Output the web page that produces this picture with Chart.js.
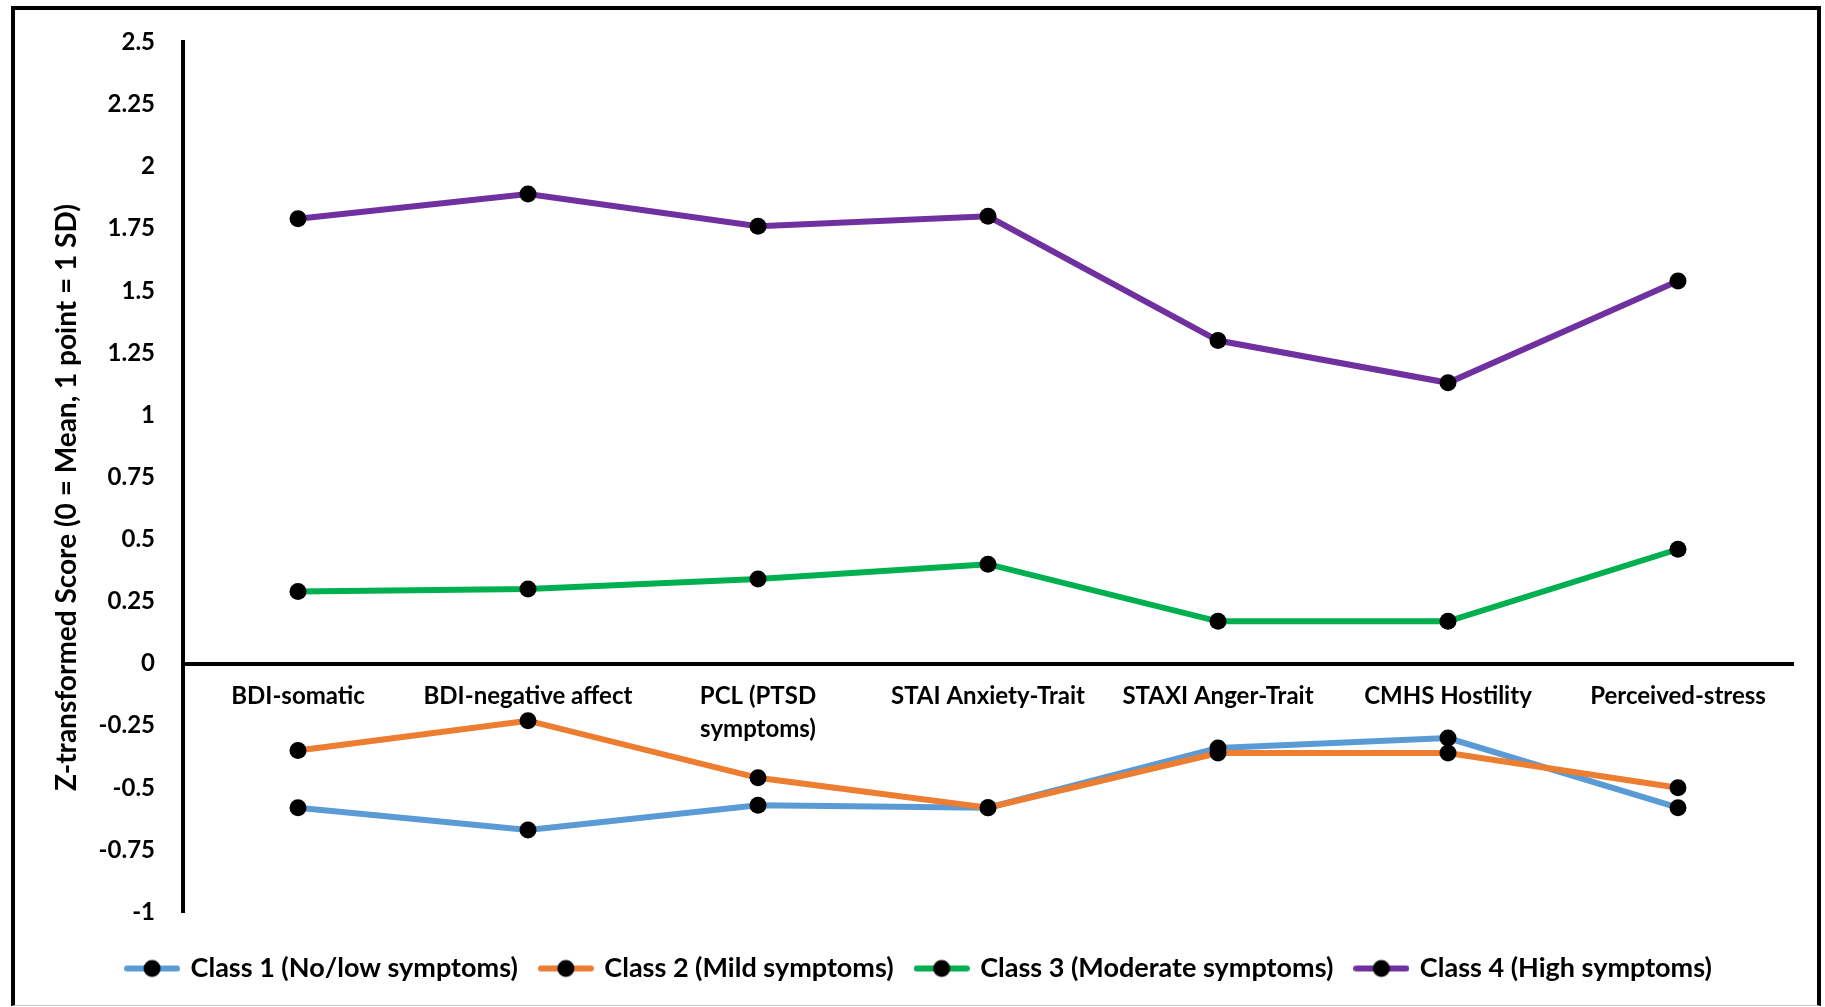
<!DOCTYPE html>
<html>
<head>
<meta charset="utf-8">
<script src="https://cdn.jsdelivr.net/npm/chart.js@4/dist/chart.umd.min.js"></script>
<style>
  html, body { margin: 0; padding: 0; background: #ffffff; }
  body { width: 1825px; height: 1007px; position: relative; overflow: hidden; }
  #frame {
    position: absolute; left: 11px; top: 6px; width: 1802px; height: 995px;
    border-left: 4px solid #000; border-top: 4px solid #000; border-right: 4px solid #000;
    border-bottom: 1px solid #c8c8c8;
  }
  #wrap { position: absolute; left: 0; top: 0; width: 1825px; height: 1007px; }
</style>
</head>
<body>
<div id="frame"></div>
<div id="wrap"><canvas id="chart" width="1825" height="1007"></canvas></div>
<script>
// Measures on the x axis
const categories = [
  'BDI-somatic',
  'BDI-negative affect',
  ['PCL (PTSD', 'symptoms)'],
  'STAI Anxiety-Trait',
  'STAXI Anger-Trait',
  'CMHS Hostility',
  'Perceived-stress'
];

// Mean z-scores per latent class
const class1 = [-0.58, -0.67, -0.57, -0.58, -0.34, -0.30, -0.58];
const class2 = [-0.35, -0.23, -0.46, -0.58, -0.36, -0.36, -0.50];
const class3 = [0.29, 0.30, 0.34, 0.40, 0.17, 0.17, 0.46];
const class4 = [1.79, 1.89, 1.76, 1.80, 1.30, 1.13, 1.54];

const seriesNames = [
  'Class 1 (No/low symptoms)',
  'Class 2 (Mild symptoms)',
  'Class 3 (Moderate symptoms)',
  'Class 4 (High symptoms)'
];
const seriesColors = ['#5B9BD5', '#ED7D31', '#00B050', '#7030A0'];

// Y axis ticks and title
const yTicks = [-1, -0.75, -0.5, -0.25, 0, 0.25, 0.5, 0.75, 1, 1.25, 1.5, 1.75, 2, 2.25, 2.5];
const yTickLabels = ['-1', '-0.75', '-0.5', '-0.25', '0', '0.25', '0.5', '0.75', '1', '1.25', '1.5', '1.75', '2', '2.25', '2.5'];
const yTitle = 'Z-transformed Score (0 = Mean, 1 point = 1 SD)';

const FONT = 'Lato, "Open Sans", sans-serif';

// Legend symbol: coloured line with a black dot in the middle
function legendSymbol(color) {
  const c = document.createElement('canvas');
  c.width = 56; c.height = 20;
  const g = c.getContext('2d');
  g.strokeStyle = color; g.lineWidth = 6; g.lineCap = 'round';
  g.beginPath(); g.moveTo(3, 10); g.lineTo(53, 10); g.stroke();
  g.fillStyle = '#000';
  g.beginPath(); g.arc(28, 10, 8.5, 0, Math.PI * 2); g.fill();
  return c;
}

const allSeries = [class1, class2, class3, class4];
const datasets = allSeries.map((values, i) => ({
  label: seriesNames[i],
  data: values,
  borderColor: seriesColors[i],
  backgroundColor: seriesColors[i],
  borderWidth: 6,
  tension: 0,
  pointRadius: 8.5,
  pointHoverRadius: 8.5,
  pointBackgroundColor: '#000',
  pointBorderColor: '#000',
  pointBorderWidth: 0,
  pointStyle: 'circle',
  order: allSeries.length - i,
  fill: false
}));

const legendImages = seriesColors.map(legendSymbol);

new Chart(document.getElementById('chart'), {
  type: 'line',
  data: { labels: categories, datasets: datasets },
  options: {
    responsive: false,
    animation: false,
    devicePixelRatio: 1,
    layout: { padding: { left: 46, top: 35, right: 32, bottom: 15 } },
    plugins: {
      tooltip: { enabled: false },
      legend: {
        position: 'bottom',
        title: { display: true, text: ' ', font: { size: 2, lineHeight: 1 }, padding: { top: 18, bottom: 0 } },
        labels: {
          usePointStyle: true,
          pointStyleWidth: 50,
          padding: 23,
          color: '#000',
          font: { family: FONT, size: 27, weight: 'bold' },
          sort: (a, b) => a.datasetIndex - b.datasetIndex,
          generateLabels: (chart) => chart.data.datasets.map((ds, i) => ({
            text: ds.label,
            datasetIndex: i,
            pointStyle: legendImages[i],
            fillStyle: ds.borderColor,
            strokeStyle: ds.borderColor,
            fontColor: '#000',
            lineWidth: 0,
            hidden: false
          }))
        }
      }
    },
    scales: {
      x: {
        type: 'category',
        position: { y: 0 },
        offset: true,
        grid: { display: false, drawTicks: false },
        border: { display: true, color: '#000', width: 4 },
        ticks: {
          color: '#000',
          maxRotation: 0,
          autoSkip: false,
          padding: 16,
          font: { family: FONT, size: 24, weight: 'bold', lineHeight: 1.38 }
        }
      },
      y: {
        min: -1,
        max: 2.5,
        afterFit: (scale) => { scale.width = 137; },
        afterBuildTicks: (scale) => { scale.ticks = yTicks.map(v => ({ value: v })); },
        grid: { display: false, drawTicks: false },
        border: { display: true, color: '#000', width: 4 },
        ticks: {
          color: '#000',
          padding: 28,
          font: { family: FONT, size: 24, weight: 'bold' },
          callback: (value) => yTickLabels[yTicks.indexOf(value)]
        },
        title: {
          display: true,
          // trailing spaces move the rotated title slightly down the axis
          text: yTitle + '      ',
          color: '#000',
          font: { family: FONT, size: 28, weight: 'bold', lineHeight: 1.2 },
          padding: { top: 4, bottom: 0 }
        }
      }
    }
  }
});
</script>
</body>
</html>
